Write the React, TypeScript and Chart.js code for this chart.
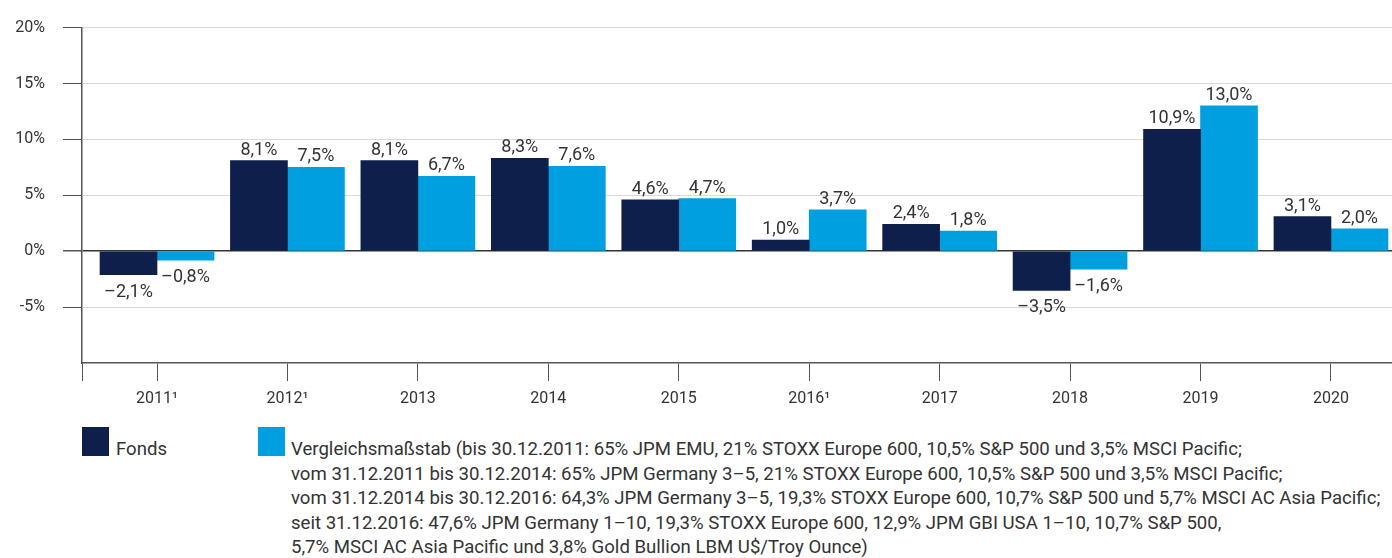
import React, { useEffect, useRef } from 'react';
import { Chart, registerables } from 'chart.js';

Chart.register(...registerables);

const categories = ['2011¹', '2012¹', '2013', '2014', '2015', '2016¹', '2017', '2018', '2019', '2020'];
const fondsValues = [-2.1, 8.1, 8.1, 8.3, 4.6, 1.0, 2.4, -3.5, 10.9, 3.1];
const benchmarkValues = [-0.8, 7.5, 6.7, 7.6, 4.7, 3.7, 1.8, -1.6, 13.0, 2.0];
const yMin = -10;
const yMax = 20;
const yStep = 5;
const legendFonds = 'Fonds';
const legendBenchmarkLines = [
  'Vergleichsmaßstab (bis 30.12.2011: 65% JPM EMU, 21% STOXX Europe 600, 10,5% S&P 500 und 3,5% MSCI Pacific;',
  'vom 31.12.2011 bis 30.12.2014: 65% JPM Germany 3–5, 21% STOXX Europe 600, 10,5% S&P 500 und 3,5% MSCI Pacific;',
  'vom 31.12.2014 bis 30.12.2016: 64,3% JPM Germany 3–5, 19,3% STOXX Europe 600, 10,7% S&P 500 und 5,7% MSCI AC Asia Pacific;',
  'seit 31.12.2016: 47,6% JPM Germany 1–10, 19,3% STOXX Europe 600, 12,9% JPM GBI USA 1–10, 10,7% S&P 500,',
  '5,7% MSCI AC Asia Pacific und 3,8% Gold Bullion LBM U$/Troy Ounce)',
];

const FONT = 'Roboto, "Open Sans", sans-serif';
const TEXT = '#333333';
const FONDS_COLOR = '#0f1f4b';
const BENCH_COLOR = '#009fe0';
const AXIS = '#555555';

const fmt = (v: number) => (v < 0 ? '–' : '') + Math.abs(v).toFixed(1).replace('.', ',') + '%';

const valueLabels = {
  id: 'valueLabels',
  afterDatasetsDraw(chart: any) {
    const ctx = chart.ctx;
    ctx.save();
    ctx.font = `18px ${FONT}`;
    ctx.fillStyle = TEXT;
    ctx.textAlign = 'center';
    ctx.textBaseline = 'alphabetic';
    chart.data.datasets.forEach((ds: any, di: number) => {
      const meta = chart.getDatasetMeta(di);
      meta.data.forEach((el: any, i: number) => {
        const v = ds.data[i].y;
        const p = el.getProps(['x', 'y'], true);
        ctx.fillText(fmt(v), p.x, v >= 0 ? p.y - 6 : p.y + 22);
      });
    });
    ctx.restore();
  },
};

export default function App() {
  const ref = useRef<HTMLCanvasElement | null>(null);

  useEffect(() => {
    document.body.style.margin = '0';
    if (!ref.current) return;
    Chart.defaults.font.family = FONT;
    Chart.defaults.font.size = 16;
    Chart.defaults.color = TEXT;
    const chart = new Chart(ref.current, {
      type: 'bar',
      data: {
        datasets: [
          {
            label: legendFonds,
            data: fondsValues.map((v, i) => ({ x: i, y: v })),
            backgroundColor: FONDS_COLOR,
            borderWidth: 0,
          },
          {
            label: 'Vergleichsmaßstab',
            data: benchmarkValues.map((v, i) => ({ x: i, y: v })),
            backgroundColor: BENCH_COLOR,
            borderWidth: 0,
          },
        ],
      },
      options: {
        animation: false,
        responsive: false,
        maintainAspectRatio: false,
        layout: { padding: { top: 23, left: 0, right: 0, bottom: 0 } },
        datasets: { bar: { barThickness: 57, barPercentage: 1, categoryPercentage: 0.874 } },
        plugins: { legend: { display: false }, tooltip: { enabled: false } },
        scales: {
          x: {
            type: 'linear',
            offset: false,
            bounds: 'data',
            min: -0.575,
            max: 9.468,
            afterBuildTicks: (s: any) => {
              s.ticks = [{ value: s.min }, ...categories.map((_, i) => ({ value: i }))];
            },
            afterFit: (s: any) => {
              s.height = 52;
            },
            ticks: {
              autoSkip: false,
              maxRotation: 0,
              padding: 8,
              color: TEXT,
              font: { size: 16, family: FONT },
              callback: (v: any) => (Number.isInteger(v) && v >= 0 ? categories[v] : ''),
            },
            grid: { offset: false, drawOnChartArea: false, tickLength: 18, color: AXIS, lineWidth: 1 },
            border: { color: AXIS, width: 1.5 },
          },
          y: {
            min: yMin,
            max: yMax,
            afterFit: (s: any) => {
              s.width = 82;
            },
            ticks: {
              stepSize: yStep,
              padding: 18,
              color: TEXT,
              font: { size: 16, family: FONT },
              callback: (v: any) => (v === yMin ? '' : v + '%'),
            },
            grid: {
              color: (c: any) => (c.tick.value === 0 ? '#333333' : c.tick.value === yMin ? 'rgba(0,0,0,0)' : '#d9d9d9'),
              lineWidth: (c: any) => (c.tick.value === 0 ? 1.5 : 1),
              tickColor: (c: any) => (c.tick.value === yMin ? 'rgba(0,0,0,0)' : AXIS),
              tickLength: 19,
            },
            border: { color: AXIS, width: 1.5 },
          },
        },
      },
      plugins: [valueLabels],
    } as any);
    return () => chart.destroy();
  }, []);

  const textStyle: React.CSSProperties = {
    position: 'absolute',
    fontFamily: FONT,
    fontSize: 18.6,
    lineHeight: '24.5px',
    color: TEXT,
    whiteSpace: 'nowrap',
  };

  return (
    <div style={{ position: 'relative', width: 1392, height: 558, overflow: 'hidden', background: '#fff' }}>
      <canvas ref={ref} width={1392} height={415} style={{ display: 'block', width: 1392, height: 415 }} />
      <div style={{ position: 'absolute', left: 82, top: 427, width: 27, height: 29, background: FONDS_COLOR }} />
      <div style={{ ...textStyle, left: 116, top: 437 }}>{legendFonds}</div>
      <div style={{ position: 'absolute', left: 258, top: 427, width: 27, height: 29, background: BENCH_COLOR }} />
      <div style={{ ...textStyle, left: 291, top: 437 }}>
        {legendBenchmarkLines.map((l, i) => (
          <div key={i}>{l}</div>
        ))}
      </div>
    </div>
  );
}
